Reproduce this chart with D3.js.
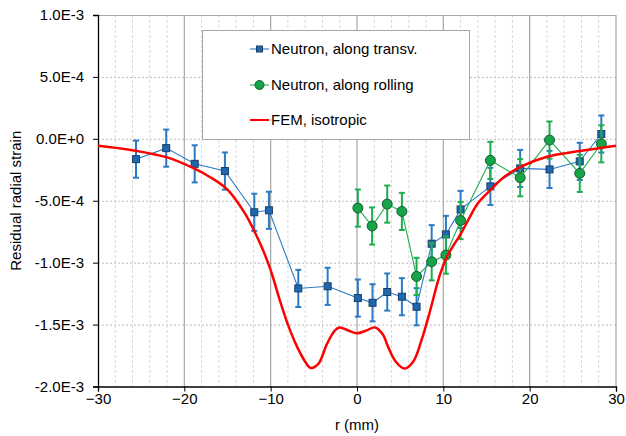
<!DOCTYPE html>
<html>
<head>
<meta charset="utf-8">
<script src="https://cdn.jsdelivr.net/npm/d3@7"></script>
<style>
  body { margin: 0; background: #fff; }
  text { font-family: "Liberation Sans", Arial, sans-serif; fill: #000; }
</style>
</head>
<body>
<div id="chart"></div>
<script>
// ============================
// Data (strain values in units of 1e-3)
// ============================

const transvR = [-25.6, -22.1, -18.8, -15.3, -11.9, -10.2, -6.8, -3.4, 0.1, 1.8, 3.5, 5.2, 6.9, 8.65, 10.3, 12.0, 15.45, 18.9, 22.3, 25.8, 28.3];
const transvStrain = [-0.164, -0.075, -0.202, -0.26, -0.593, -0.577, -1.208, -1.191, -1.286, -1.324, -1.237, -1.275, -1.356, -0.847, -0.772, -0.57, -0.384, -0.239, -0.247, -0.182, 0.039];
const transvErr = [0.15, 0.15, 0.15, 0.15, 0.15, 0.15, 0.15, 0.15, 0.15, 0.15, 0.15, 0.15, 0.15, 0.15, 0.15, 0.15, 0.15, 0.15, 0.15, 0.15, 0.15];

const rollR = [0.1, 1.75, 3.5, 5.2, 6.9, 8.65, 10.3, 12.0, 15.45, 18.9, 22.3, 25.8, 28.3];
const rollStrain = [-0.559, -0.704, -0.527, -0.586, -1.111, -0.993, -0.939, -0.66, -0.174, -0.314, -0.01, -0.279, -0.04];
const rollErr = [0.15, 0.15, 0.15, 0.15, 0.15, 0.15, 0.15, 0.15, 0.15, 0.15, 0.15, 0.15, 0.15];

const femR = [-30, -26, -22, -19, -17, -15, -13, -12, -11, -10, -9, -8, -7, -6, -5.4, -4.5, -3.5, -2.6, -2, -1, 0, 1, 2.1, 3, 3.6, 4.5, 5.5, 6.5, 7.5, 8.5, 9.5, 10.3, 11, 12, 13, 14, 15.5, 17, 19, 22, 26, 30];
const femStrain = [-0.056, -0.092, -0.15, -0.235, -0.31, -0.41, -0.6, -0.73, -0.88, -1.06, -1.29, -1.5, -1.67, -1.8, -1.85, -1.82, -1.66, -1.55, -1.523, -1.548, -1.57, -1.55, -1.523, -1.58, -1.68, -1.8, -1.855, -1.8, -1.62, -1.38, -1.12, -0.97, -0.88, -0.77, -0.64, -0.52, -0.41, -0.31, -0.225, -0.145, -0.097, -0.056];

const legendLabels = ["Neutron, along transv.", "Neutron, along rolling", "FEM, isotropic"];
const yTicks = [1, 0.5, 0, -0.5, -1, -1.5, -2];
const yTickLabels = ["1.0E-3", "5.0E-4", "0.0E+0", "-5.0E-4", "-1.0E-3", "-1.5E-3", "-2.0E-3"];

// ============================
// Intial setup
// ============================

const width = 626, height = 436;
const margin = {left: 98, right: 10, top: 15, bottom: 49.5};
const fontSize = 15;

const blue = "#2a7ac4", blueFill = "#1e68b0", blueEdge = "#1a3f66";
const green = "#1fae4f", greenFill = "#17a347", greenEdge = "#155c32";

const svg = d3.select("#chart").append("svg")
  .attr("width", width).attr("height", height);

const xscale = d3.scaleLinear().domain([-30, 30]).range([margin.left, width - margin.right]);
const yscale = d3.scaleLinear().domain([-2, 1]).range([height - margin.bottom, margin.top]);

const x0 = xscale.range()[0], x1 = xscale.range()[1];
const yb = yscale.range()[0], yt = yscale.range()[1];

// Minor vertical grid (every 2 mm)
svg.append("g").selectAll("line")
  .data(d3.range(-28, 30, 2).filter(d => d % 10 !== 0))
  .join("line")
  .attr("x1", d => xscale(d)).attr("x2", d => xscale(d))
  .attr("y1", yt).attr("y2", yb)
  .attr("stroke", "#d9d9d9").attr("stroke-dasharray", "3,2").attr("stroke-width", 1);

// Horizontal grid
svg.append("g").selectAll("line")
  .data(yTicks.filter(d => d > -2 && d < 1))
  .join("line")
  .attr("x1", x0).attr("x2", x1)
  .attr("y1", d => yscale(d) + 0.5).attr("y2", d => yscale(d) + 0.5)
  .attr("stroke", "#bdbdbd").attr("stroke-dasharray", "2,2").attr("stroke-width", 1);

// Major vertical grid (every 10 mm)
svg.append("g").selectAll("line")
  .data([-20, -10, 0, 10, 20, 30])
  .join("line")
  .attr("x1", d => xscale(d)).attr("x2", d => xscale(d))
  .attr("y1", yt).attr("y2", yb)
  .attr("stroke", "#a6a6a6").attr("stroke-width", 1.2);

// top border
svg.append("line")
  .attr("x1", x0).attr("x2", x1).attr("y1", yt + 0.5).attr("y2", yt + 0.5)
  .attr("stroke", "#a6a6a6");

// ============================
// Axes
// ============================

const xAxis = d3.axisBottom(xscale).tickValues([-30, -20, -10, 0, 10, 20, 30]).tickSize(5).tickPadding(2);
svg.append("g")
  .attr("transform", `translate(0,${yb})`)
  .call(xAxis)
  .call(g => g.select(".domain").attr("stroke", "#000").attr("stroke-width", 1.3))
  .call(g => g.selectAll(".tick line").attr("stroke", "#000"))
  .call(g => g.selectAll(".tick text").attr("font-size", fontSize).attr("font-family", "Liberation Sans, Arial, sans-serif"));

const yAxis = d3.axisLeft(yscale).tickValues(yTicks).tickFormat((d, i) => yTickLabels[i]).tickSize(5).tickPadding(9);
svg.append("g")
  .attr("transform", `translate(${x0},0)`)
  .call(yAxis)
  .call(g => g.select(".domain").attr("stroke", "#000").attr("stroke-width", 1.3))
  .call(g => g.selectAll(".tick line").attr("stroke", "#000"))
  .call(g => g.selectAll(".tick text").attr("font-size", fontSize).attr("font-family", "Liberation Sans, Arial, sans-serif"));

svg.append("text")
  .attr("x", xscale(0)).attr("y", 430)
  .attr("text-anchor", "middle").attr("font-size", fontSize)
  .text("r (mm)");

svg.append("text")
  .attr("transform", `translate(21,${(yt + yb) / 2}) rotate(-90)`)
  .attr("text-anchor", "middle").attr("font-size", fontSize)
  .text("Residual radial strain");

// ============================
// Legend box (behind the data)
// ============================

const legend = svg.append("g");
legend.append("rect")
  .attr("x", 202.5).attr("y", 30.5).attr("width", 267).attr("height", 109)
  .attr("fill", "#fff").attr("stroke", "#a6a6a6");

// ============================
// Series
// ============================

const transv = transvR.map((d, i) => ({x: d, y: transvStrain[i], e: transvErr[i]}));
const roll = rollR.map((d, i) => ({x: d, y: rollStrain[i], e: rollErr[i]}));
const fem = femR.map((d, i) => ({x: d, y: femStrain[i]}));

const line = d3.line().x(d => xscale(d.x)).y(d => yscale(d.y));
const femLine = d3.line().curve(d3.curveCatmullRom.alpha(0.5)).x(d => xscale(d.x)).y(d => yscale(d.y));

function drawSeries(data, color) {
  const g = svg.append("g");
  g.append("path").datum(data)
    .attr("d", line).attr("fill", "none").attr("stroke", color).attr("stroke-width", 1.1);
  const eb = g.append("g").attr("stroke", color).attr("stroke-width", 2);
  eb.selectAll(".v").data(data).join("line")
    .attr("x1", d => xscale(d.x)).attr("x2", d => xscale(d.x))
    .attr("y1", d => yscale(d.y + d.e)).attr("y2", d => yscale(d.y - d.e));
  eb.selectAll(".t").data(data).join("line")
    .attr("x1", d => xscale(d.x) - 3).attr("x2", d => xscale(d.x) + 3)
    .attr("y1", d => yscale(d.y + d.e)).attr("y2", d => yscale(d.y + d.e));
  eb.selectAll(".b").data(data).join("line")
    .attr("x1", d => xscale(d.x) - 3).attr("x2", d => xscale(d.x) + 3)
    .attr("y1", d => yscale(d.y - d.e)).attr("y2", d => yscale(d.y - d.e));
  return g;
}

const gTransv = drawSeries(transv, blue);
const gRoll = drawSeries(roll, green);

gRoll.selectAll("circle").data(roll).join("circle")
  .attr("cx", d => xscale(d.x)).attr("cy", d => yscale(d.y)).attr("r", 5)
  .attr("fill", greenFill).attr("stroke", greenEdge).attr("stroke-width", 1);

gTransv.selectAll("rect").data(transv).join("rect")
  .attr("x", d => xscale(d.x) - 3.5).attr("y", d => yscale(d.y) - 3.5)
  .attr("width", 7).attr("height", 7)
  .attr("fill", blueFill).attr("stroke", blueEdge).attr("stroke-width", 1);

// FEM curve
svg.append("path").datum(fem)
  .attr("d", femLine).attr("fill", "none")
  .attr("stroke", "#ff0000").attr("stroke-width", 2.5);

// ============================
// Legend entries
// ============================

const ly = [49, 85, 120];
legendLabels.forEach((t, i) => {
  legend.append("text")
    .attr("x", 271).attr("y", ly[i]).attr("dy", "0.35em")
    .attr("font-size", fontSize).text(t);
});
legend.append("line").attr("x1", 250).attr("x2", 269).attr("y1", ly[0]).attr("y2", ly[0]).attr("stroke", blue).attr("stroke-width", 1.1);
legend.append("rect").attr("x", 256.5).attr("y", ly[0] - 3).attr("width", 6).attr("height", 6)
  .attr("fill", blueFill).attr("stroke", blueEdge);
legend.append("line").attr("x1", 250).attr("x2", 269).attr("y1", ly[1]).attr("y2", ly[1]).attr("stroke", "#8fd4a6").attr("stroke-width", 2);
legend.append("circle").attr("cx", 259.5).attr("cy", ly[1]).attr("r", 4.5)
  .attr("fill", greenFill).attr("stroke", greenEdge);
legend.append("line").attr("x1", 250).attr("x2", 269).attr("y1", ly[2]).attr("y2", ly[2]).attr("stroke", "#ff0000").attr("stroke-width", 2);
</script>
</body>
</html>
